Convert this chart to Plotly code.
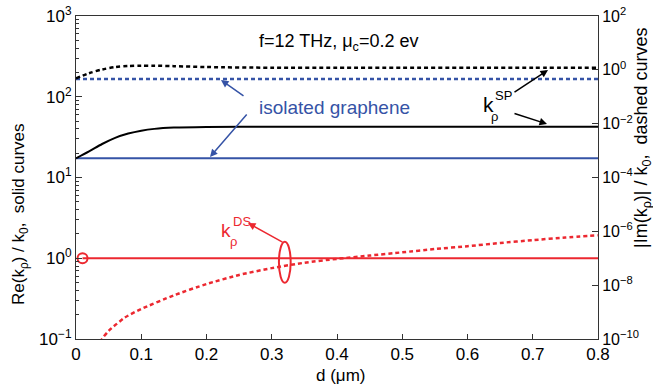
import plotly.graph_objects as go

# ---------------- data ----------------
d_sp = [0.00, 0.02, 0.04, 0.06, 0.08, 0.10, 0.12, 0.15, 0.20, 0.30, 0.40, 0.50, 0.60, 0.70, 0.80]
re_sp = [17.3, 21.0, 26.0, 31.0, 35.0, 38.0, 40.0, 41.5, 42.3, 42.6, 42.6, 42.6, 42.6, 42.6, 42.6]
im_sp = [0.48, 0.75, 1.03, 1.27, 1.38, 1.42, 1.42, 1.37, 1.27, 1.20, 1.20, 1.20, 1.20, 1.20, 1.20]

d_iso = [0.0, 0.8]
re_iso = [17.3, 17.3]
im_iso = [0.46, 0.46]

d_ds_re = [0.01, 0.8]
re_ds = [1.0, 1.0]

d_ds_im = [0.03, 0.04, 0.05, 0.075, 0.10, 0.15, 0.20, 0.25, 0.30, 0.35, 0.40,
           0.45, 0.50, 0.55, 0.60, 0.65, 0.70, 0.75, 0.80]
im_ds = [2.5e-11, 1.0e-10, 2.0e-10, 6.3e-10, 1.3e-9, 4.2e-9, 1.1e-8, 2.4e-8, 4.3e-8,
         6.8e-8, 9.5e-8, 1.26e-7, 1.66e-7, 2.2e-7, 2.8e-7, 3.7e-7, 4.7e-7, 5.9e-7, 7.1e-7]

x_ticks = [0, 0.1, 0.2, 0.3, 0.4, 0.5, 0.6, 0.7, 0.8]
x_ticktext = ["0", "0.1", "0.2", "0.3", "0.4", "0.5", "0.6", "0.7", "0.8"]
left_tickvals = [0.1, 1, 10, 100, 1000]
left_ticktext = ["10<sup>−1</sup>", "10<sup>0</sup>", "10<sup>1</sup>", "10<sup>2</sup>", "10<sup>3</sup>"]
right_tickvals = [1e-10, 1e-8, 1e-6, 1e-4, 1e-2, 1, 100]
right_ticktext = ["10<sup>−10</sup>", "10<sup>−8</sup>", "10<sup>−6</sup>", "10<sup>−4</sup>",
                  "10<sup>−2</sup>", "10<sup>0</sup>", "10<sup>2</sup>"]

BLACK = "#000000"
BLUE = "#3553A6"
RED = "#EC2830"
FONT = "Liberation Sans, Arial, Helvetica, sans-serif"

# ---------------- figure ----------------
W, H = 653, 384
# plot-area edges in pixels
L, R, T, B = 76, 598, 16, 339


def px(x):
    return (x - L) / (R - L)


def py(y):
    return (B - y) / (B - T)


DASH = "4px,3px"

fig = go.Figure()
fig.add_trace(go.Scatter(x=d_iso, y=re_iso, mode="lines", line=dict(color=BLUE, width=2), yaxis="y"))
fig.add_trace(go.Scatter(x=d_sp, y=re_sp, mode="lines", line=dict(color=BLACK, width=2, shape="spline", smoothing=0.8), yaxis="y"))
fig.add_trace(go.Scatter(x=d_ds_re, y=re_ds, mode="lines", line=dict(color=RED, width=2), yaxis="y"))
fig.add_trace(go.Scatter(x=d_ds_re[:1], y=re_ds[:1], mode="markers",
                         marker=dict(symbol="circle-open", size=10, color=RED, line=dict(color=RED, width=2)), yaxis="y"))
fig.add_trace(go.Scatter(x=d_iso, y=im_iso, mode="lines", line=dict(color=BLUE, width=2.5, dash=DASH), yaxis="y2"))
fig.add_trace(go.Scatter(x=d_sp, y=im_sp, mode="lines", line=dict(color=BLACK, width=2.5, dash=DASH, shape="spline", smoothing=0.8), yaxis="y2"))
fig.add_trace(go.Scatter(x=d_ds_im, y=im_ds, mode="lines", line=dict(color=RED, width=2.5, dash=DASH, shape="spline", smoothing=0.6), yaxis="y2"))

minor_vals = []
for dec in [0.1, 1, 10, 100]:
    for k in range(2, 10):
        minor_vals.append(round(dec * k, 6))

fig.update_layout(
    width=W, height=H,
    margin=dict(l=L, r=W - R, t=T, b=H - B, autoexpand=False),
    paper_bgcolor="white", plot_bgcolor="white",
    showlegend=False,
    font=dict(family=FONT, size=17, color="black"),
    xaxis=dict(range=[0, 0.8], tickvals=x_ticks, ticktext=x_ticktext, automargin=False,
               ticks="inside", ticklen=5, tickcolor="#333", showline=True, linecolor="#333", linewidth=1,
               mirror=True, showgrid=False, zeroline=False, tickfont=dict(size=17),
               ticklabeloverflow="allow"),
    yaxis=dict(type="log", range=[-1, 3], tickvals=left_tickvals, ticktext=left_ticktext, automargin=False,
               ticks="inside", ticklen=6, tickcolor="#333", showline=True, linecolor="#333", linewidth=1,
               showgrid=False, zeroline=False, tickfont=dict(size=17), ticklabeloverflow="allow",
               minor=dict(tickvals=minor_vals, ticks="inside", ticklen=3, tickcolor="#333", showgrid=False)),
    yaxis2=dict(type="log", range=[-10, 2], tickvals=right_tickvals, ticktext=right_ticktext, automargin=False,
                overlaying="y", side="right", ticks="inside", ticklen=6, tickcolor="#333",
                showline=True, linecolor="#333", linewidth=1, showgrid=False, zeroline=False,
                tickfont=dict(size=16), ticklabeloverflow="allow"),
)

ann = []


def text(x, y, s, size, color="black", angle=0):
    ann.append(dict(x=px(x), y=py(y), xref="paper", yref="paper", text=s, showarrow=False,
                    xanchor="center", yanchor="middle", textangle=angle,
                    font=dict(size=size, color=color, family=FONT)))


def arrow(hx, hy, tx, ty, color):
    ann.append(dict(x=px(hx), y=py(hy), xref="paper", yref="paper", text="", showarrow=True,
                    ax=tx - hx, ay=ty - hy, axref="pixel", ayref="pixel",
                    arrowhead=2, arrowsize=1, arrowwidth=1.5, arrowcolor=color))


# axis titles
text(20, 214, "Re(k<sub>ρ</sub>) / k<sub>0</sub>,  solid curves", 17, angle=-90)
text(642, 138, "|Im(k<sub>ρ</sub>)| / k<sub>0</sub>,  dashed curves", 18, angle=-90)
text(340, 375, "d (μm)", 17)

# annotations
text(338, 43, "f=12 THz, μ<sub>c</sub>=0.2 ev", 18)
text(334, 107, "isolated graphene", 19, color=BLUE)
arrow(221, 80, 245, 97, BLUE)
arrow(210, 157, 248, 113, BLUE)

text(488, 104, "k", 21)
text(503.5, 95.5, "SP", 13)
text(494, 116, "ρ", 13)
arrow(548, 70, 513, 93, BLACK)
arrow(547, 124, 513, 113, BLACK)

text(226, 230, "k", 19, color=RED)
text(241.5, 221, "DS", 13, color=RED)
text(233, 241, "ρ", 13, color=RED)
arrow(248, 223, 284, 243, RED)

fig.update_layout(annotations=ann)
fig.add_shape(type="circle", xref="x", yref="paper",
              x0=0.311, x1=0.329, y0=py(282.7), y1=py(241.7),
              line=dict(color=RED, width=2))

# remove the default 8px page margin so the figure sits at the window's corner
fig.write_html("out.html", config={"displayModeBar": False},
               post_script="document.body.style.margin='0';document.body.style.overflow='hidden';")
